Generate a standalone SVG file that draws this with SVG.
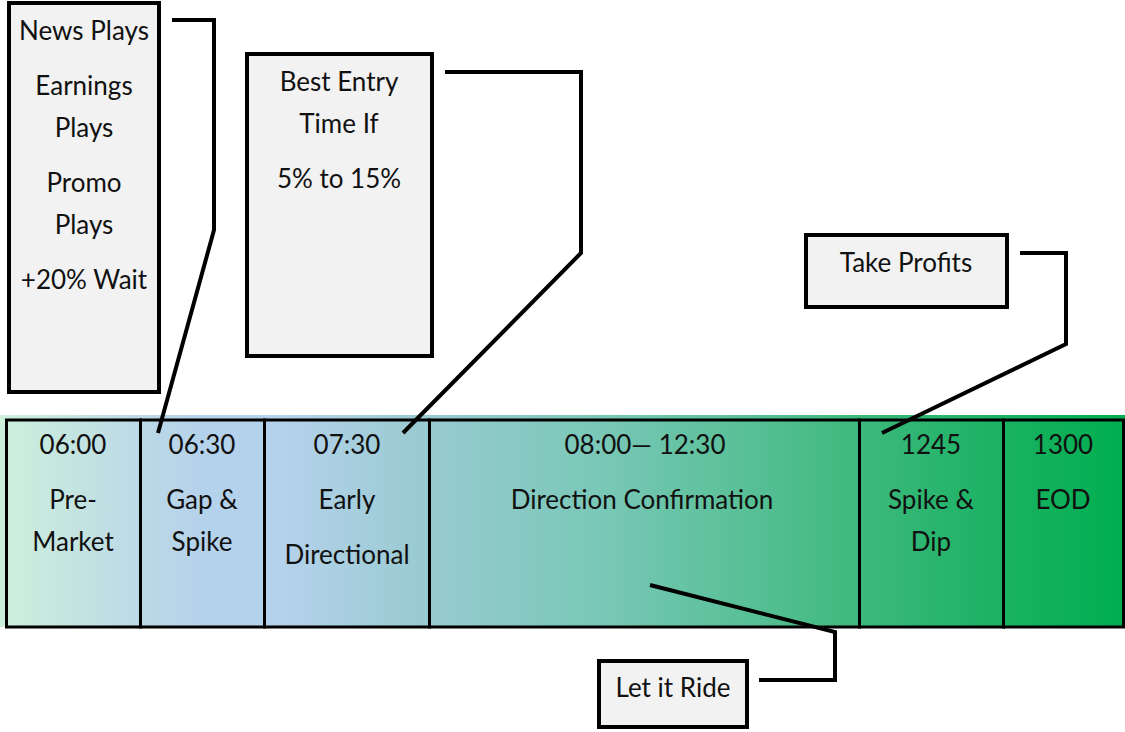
<svg xmlns="http://www.w3.org/2000/svg" width="1125" height="732" viewBox="0 0 1125 732">
<defs>
<linearGradient id="bar" x1="0" y1="0" x2="1125" y2="0" gradientUnits="userSpaceOnUse">
<stop offset="0" stop-color="#cdf0dc"/>
<stop offset="0.125" stop-color="#bcd9e6"/>
<stop offset="0.18" stop-color="#b5d2ec"/>
<stop offset="0.25" stop-color="#b5d2ec"/>
<stop offset="0.38" stop-color="#98cad0"/>
<stop offset="0.53" stop-color="#7ac8b8"/>
<stop offset="0.72" stop-color="#4abc88"/>
<stop offset="0.77" stop-color="#3cb87c"/>
<stop offset="0.89" stop-color="#1ab262"/>
<stop offset="1" stop-color="#00ae50"/>
</linearGradient>
<style>
text{font-family:Lato,"Liberation Sans",sans-serif;font-size:26px;fill:#111;text-anchor:middle}
.box{fill:#f2f2f2;stroke:#000;stroke-width:4}
.cell{fill:none;stroke:#000;stroke-width:3}
.conn{fill:none;stroke:#000;stroke-width:4;stroke-linejoin:miter}
</style>
</defs>
<rect x="0" y="415" width="1125" height="212" fill="url(#bar)"/>
<g id="cell-0600"><rect class="cell" x="6.5" y="420" width="134" height="207"/><text x="73" y="454">06:00</text><text x="73" y="509">Pre-</text><text x="73" y="551">Market</text></g>
<g id="cell-0630"><rect class="cell" x="140.5" y="420" width="124" height="207"/><text x="202" y="454">06:30</text><text x="202" y="509">Gap &amp;</text><text x="202" y="551">Spike</text></g>
<g id="cell-0730"><rect class="cell" x="264.5" y="420" width="165" height="207"/><text x="347" y="454">07:30</text><text x="347" y="509">Early</text><text x="347" y="564">Directional</text></g>
<g id="cell-0800"><rect class="cell" x="429.5" y="420" width="430" height="207"/><text x="645" y="454">08:00— 12:30</text><text x="642" y="509">Direction Confirmation</text></g>
<g id="cell-1245"><rect class="cell" x="859.5" y="420" width="144" height="207"/><text x="931" y="454">1245</text><text x="931" y="509">Spike &amp;</text><text x="931" y="551">Dip</text></g>
<g id="cell-1300"><rect class="cell" x="1003.5" y="420" width="120" height="207"/><text x="1063" y="454">1300</text><text x="1063" y="509">EOD</text></g>
<g id="connectors">
<polyline class="conn" points="172,20 214,20 214,230 158,433"/>
<polyline class="conn" points="445,72 581,72 581,253 403,433"/>
<polyline class="conn" points="1020,253 1066,253 1066,344 882,433"/>
<polyline class="conn" points="650,585 835,632 835,680 759,680"/>
</g>
<g id="news"><rect class="box" x="9" y="3" width="150" height="389"/><text x="84" y="40">News Plays</text><text x="84" y="95">Earnings</text><text x="84" y="137">Plays</text><text x="84" y="192">Promo</text><text x="84" y="234">Plays</text><text x="84" y="289">+20% Wait</text></g>
<g id="entry"><rect class="box" x="247" y="54" width="185" height="302"/><text x="339" y="91">Best Entry</text><text x="339" y="133">Time If</text><text x="339" y="188">5% to 15%</text></g>
<g id="profits"><rect class="box" x="806" y="235" width="201" height="72"/><text x="906" y="272">Take Profits</text></g>
<g id="ride"><rect class="box" x="599" y="661" width="148" height="66"/><text x="673" y="697">Let it Ride</text></g>
</svg>
